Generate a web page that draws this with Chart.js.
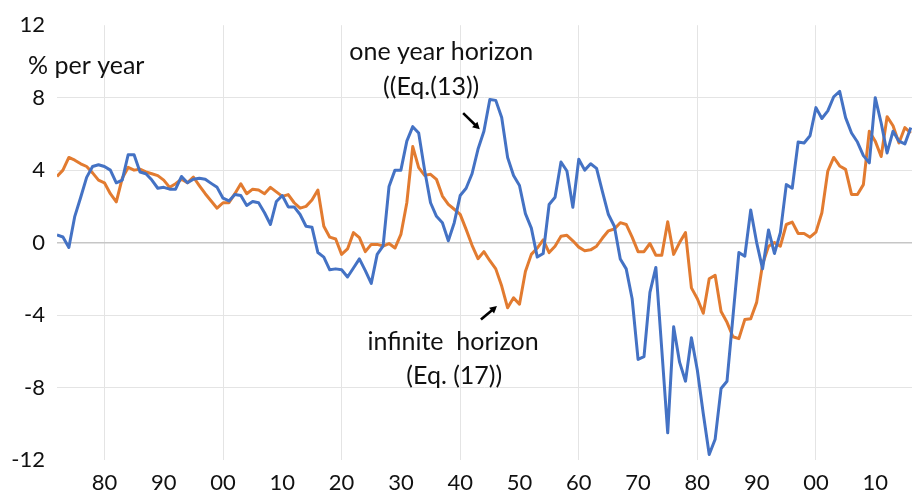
<!DOCTYPE html>
<html>
<head>
<meta charset="utf-8">
<script src="https://cdn.jsdelivr.net/npm/chart.js@4.4.0/dist/chart.umd.min.js"></script>
<style>
  html, body { margin: 0; padding: 0; background: #fff; }
</style>
</head>
<body>
<canvas id="myChart" width="912" height="494"></canvas>
<script>
// annual data, 1872 - 2016
const firstYear = 1872;
const lastYear = 2016;

const oneYearHorizon = [
  0.42, 0.31, -0.27, 1.45, 2.5, 3.6, 4.2, 4.3,                 // 1872-1879
  4.2, 4.0, 3.3, 3.45, 4.85, 4.85, 3.9, 3.8, 3.45, 3.0,        // 1880s
  3.05, 2.95, 2.95, 3.65, 3.3, 3.5, 3.55, 3.5, 3.27, 3.05,     // 1890s
  2.45, 2.3, 2.65, 2.6, 2.05, 2.27, 2.2, 1.65, 1.0, 2.27,      // 1900s
  2.6, 1.97, 1.97, 1.55, 0.9, 0.85, -0.55, -0.8, -1.5, -1.45,  // 1910s
  -1.5, -1.9, -1.4, -0.9, -1.55, -2.25, -0.65, -0.18, 3.1, 4.0, // 1920s
  4.0, 5.6, 6.4, 6.05, 4.0, 2.2, 1.45, 1.1, 0.1, 1.1,          // 1930s
  2.6, 3.0, 3.8, 5.15, 6.15, 7.9, 7.85, 6.9, 4.7, 3.7,         // 1940s
  3.15, 1.6, 0.8, -0.8, -0.6, 2.1, 2.5, 4.45, 3.95, 1.95,      // 1950s
  4.6, 4.0, 4.35, 4.1, 2.8, 1.55, 0.9, -0.9, -1.45, -3.1,      // 1960s
  -6.45, -6.3, -2.75, -1.37, -5.9, -10.5, -4.65, -6.6, -7.65, -5.25, // 1970s
  -7.05, -9.45, -11.7, -10.85, -8.05, -7.65, -4.1, -0.55, -0.75, 1.8, // 1980s
  0.0, -1.45, 0.7, -0.6, 0.55, 3.2, 3.0, 5.55, 5.5, 5.9,       // 1990s
  7.45, 6.85, 7.27, 8.05, 8.35, 6.9, 6.05, 5.55, 4.8, 4.4,     // 2000s
  8.0, 6.6, 4.95, 6.15, 5.6, 5.45, 6.35                        // 2010-2016
];

const infiniteHorizon = [
  3.65, 4.0, 4.7, 4.55, 4.35, 4.2, 3.85, 3.45,                 // 1872-1879
  3.3, 2.7, 2.25, 3.55, 4.15, 4.0, 4.05, 3.9, 3.8, 3.7,        // 1880s
  3.45, 3.05, 3.25, 3.5, 3.3, 3.62, 3.15, 2.7, 2.3, 1.9,       // 1890s
  2.2, 2.2, 2.7, 3.25, 2.7, 2.95, 2.9, 2.7, 3.05, 2.8,         // 1900s
  2.55, 2.65, 2.2, 1.9, 2.0, 2.35, 2.9, 0.9, 0.3, 0.2,         // 1910s
  -0.65, -0.35, 0.55, 0.27, -0.5, -0.1, -0.1, -0.19, -0.05, -0.3, // 1920s
  0.45, 2.2, 5.3, 4.14, 3.71, 3.77, 3.49, 2.57, 2.11, 1.84,    // 1930s
  1.56, 0.73, -0.15, -0.89, -0.5, -1.0, -1.45, -2.4, -3.6, -3.05, // 1940s
  -3.4, -1.6, -0.65, -0.3, 0.15, -0.55, -0.2, 0.35, 0.4, 0.1,  // 1950s
  -0.25, -0.45, -0.4, -0.2, 0.25, 0.65, 0.75, 1.1, 1.0, 0.3,   // 1960s
  -0.5, -0.5, -0.05, -0.7, -0.7, 1.15, -0.65, 0.0, 0.55, -2.5, // 1970s
  -3.1, -3.9, -2.0, -1.8, -3.8, -4.4, -5.2, -5.3, -4.25, -4.2, // 1980s
  -3.3, -1.2, -0.2, 0.0, -0.2, 1.0, 1.13, 0.5, 0.5, 0.3,       // 1990s
  0.58, 1.65, 3.95, 4.7, 4.23, 4.04, 2.66, 2.66, 3.2, 6.15,    // 2000s
  5.6, 4.75, 6.95, 6.45, 5.5, 6.35, 6.05                       // 2010-2016
];

const xTickYears = [1880, 1890, 1900, 1910, 1920, 1930, 1940, 1950, 1960, 1970, 1980, 1990, 2000, 2010];
const yTickValues = [-12, -8, -4, 0, 4, 8, 12];

const years = [];
for (let y = firstYear; y <= lastYear; y++) years.push(y);

function toPoints(vals) {
  return years.map((yr, i) => ({ x: yr, y: vals[i] }));
}

const FONT = "Lato, 'Open Sans', sans-serif";
const TEXT_COLOR = "#111";

// labels placed in data space
const notes = [
  { text: "one year horizon", x: 1936.8, y: 10.5 },
  { text: "((Eq.(13))", x: 1935.1, y: 8.6 },
  { text: "infinite  horizon", x: 1938.8, y: -5.48 },
  { text: "(Eq. (17))", x: 1939.0, y: -7.36 }
];
const arrows = [
  { from: [1940.5, 7.15], to: [1943.3, 6.25] },
  { from: [1943.5, -4.25], to: [1946.2, -3.5] }
];

const annotationPlugin = {
  id: "notes",
  afterDatasetsDraw(chart) {
    const ctx = chart.ctx;
    const xs = chart.scales.x, ys = chart.scales.y;
    ctx.save();
    ctx.fillStyle = TEXT_COLOR;
    ctx.font = "25px " + FONT;
    ctx.textAlign = "center";
    ctx.textBaseline = "middle";
    notes.forEach((n) => {
      ctx.fillText(n.text, xs.getPixelForValue(n.x), ys.getPixelForValue(n.y));
    });
    // axis unit, drawn horizontally above the axis
    ctx.textAlign = "left";
    ctx.fillText("% per year", 28, 66);

    ctx.strokeStyle = "#000";
    ctx.lineWidth = 2.6;
    arrows.forEach((a) => {
      const x1 = xs.getPixelForValue(a.from[0]), y1 = ys.getPixelForValue(a.from[1]);
      const x2 = xs.getPixelForValue(a.to[0]), y2 = ys.getPixelForValue(a.to[1]);
      const ang = Math.atan2(y2 - y1, x2 - x1);
      const head = 8;
      ctx.beginPath();
      ctx.moveTo(x1, y1);
      ctx.lineTo(x2 - Math.cos(ang) * 3, y2 - Math.sin(ang) * 3);
      ctx.stroke();
      ctx.beginPath();
      ctx.moveTo(x2, y2);
      ctx.lineTo(x2 - head * Math.cos(ang - 0.5), y2 - head * Math.sin(ang - 0.5));
      ctx.lineTo(x2 - head * Math.cos(ang + 0.5), y2 - head * Math.sin(ang + 0.5));
      ctx.closePath();
      ctx.fillStyle = "#000";
      ctx.fill();
    });
    ctx.restore();
  }
};

const ctx = document.getElementById("myChart").getContext("2d");
const myChart = new Chart(ctx, {
  type: "line",
  data: {
    datasets: [
      {
        label: "one year horizon (Eq.(13))",
        data: toPoints(oneYearHorizon),
        borderColor: "#4472C4",
        borderWidth: 3,
        pointRadius: 0,
        tension: 0,
        borderJoinStyle: "round"
      },
      {
        label: "infinite horizon (Eq. (17))",
        data: toPoints(infiniteHorizon),
        borderColor: "#E27B30",
        borderWidth: 3,
        pointRadius: 0,
        tension: 0,
        borderJoinStyle: "round"
      }
    ]
  },
  options: {
    responsive: false,
    animation: false,
    layout: { padding: { top: 25, left: 0, right: 0, bottom: 0 } },
    plugins: { legend: { display: false }, tooltip: { enabled: false } },
    scales: {
      x: {
        type: "linear",
        min: firstYear,
        max: lastYear + 0.2,
        afterBuildTicks: (s) => { s.ticks = xTickYears.map((v) => ({ value: v })); },
        afterFit: (s) => { s.height = 34; },
        border: { display: false },
        grid: {
          drawTicks: false,
          color: (c) => (c.tick && c.tick.value % 20 === 0 ? "#e4e4e4" : "rgba(0,0,0,0)"),
          lineWidth: 1
        },
        ticks: {
          autoSkip: false,
          maxRotation: 0,
          padding: 10,
          color: TEXT_COLOR,
          font: { family: FONT, size: 22 },
          callback: (v) => String(v % 100).padStart(2, "0")
        }
      },
      y: {
        min: -12,
        max: 12,
        afterBuildTicks: (s) => { s.ticks = yTickValues.map((v) => ({ value: v })); },
        afterFit: (s) => { s.width = 57; },
        border: { display: false },
        grid: {
          drawTicks: false,
          color: (c) => {
            if (!c.tick) return "rgba(0,0,0,0)";
            if (Math.abs(c.tick.value) === 12) return "rgba(0,0,0,0)";
            return c.tick.value === 0 ? "#c6c6c6" : "#e4e4e4";
          },
          lineWidth: (c) => (c.tick && c.tick.value === 0 ? 1.6 : 1)
        },
        ticks: {
          padding: 12,
          color: TEXT_COLOR,
          font: { family: FONT, size: 22 }
        }
      }
    }
  },
  plugins: [annotationPlugin]
});
</script>
</body>
</html>
